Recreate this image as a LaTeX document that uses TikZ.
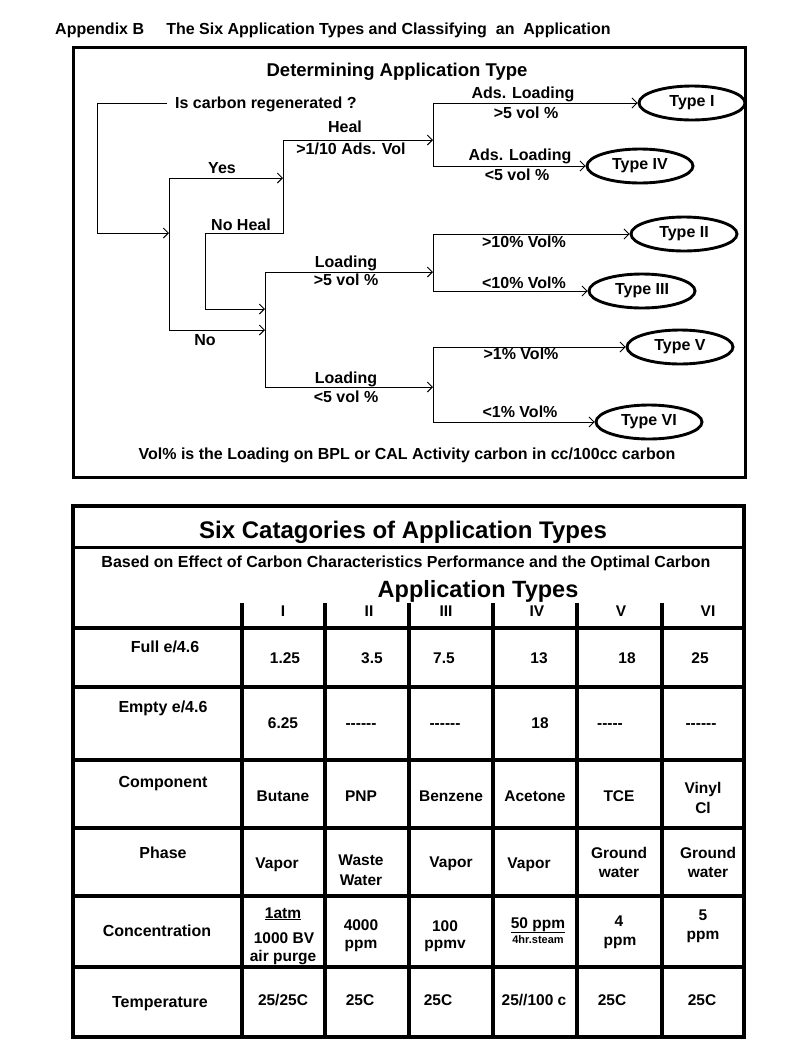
\documentclass[tikz,border=0pt]{standalone}
\usepackage{fontspec}
\setmainfont{Liberation Sans}
\usetikzlibrary{arrows.meta,shapes.geometric}
\newcommand{\fsz}[1]{\fontsize{#1}{#1}\selectfont\bfseries}
\begin{document}
\begin{tikzpicture}[x=1pt,y=-1pt,
  lbl/.style={anchor=base,inner sep=0pt,font=\fsz{16}},
  cell/.style={anchor=base,inner sep=0pt,font=\fsz{15.5}},
  rowlbl/.style={anchor=base,inner sep=0pt,font=\fsz{16}},
  line1/.style={line width=1pt},
  arr/.style={line width=1pt,-{Straight Barb[length=5pt,width=10pt,line width=0.9pt]}},
  typ/.style={ellipse,draw,line width=2.9pt,minimum width=106pt,minimum height=34pt,inner sep=0pt,font=\fsz{16}},
  boxframe/.style={line width=3pt},
  tablegrid/.style={line width=3.8pt}]
\useasboundingbox (0,0) rectangle (805,1042);
\fill[white] (0,0) rectangle (805,1042);

% ---------- page title ----------
\node[anchor=base west,inner sep=0pt,font=\fsz{16}] (ttl) at (55,34)
  {Appendix B\ \ \ \ \ The Six Application Types and Classifying\ \ an\ \ Application};

% ---------- top box ----------
\draw[boxframe] (73,47) rectangle (745,477);
\node[lbl,font=\fsz{18.5}] (hdr) at (397,76) {Determining Application Type};

\node[lbl,anchor=base west] (Q) at (175,108) {Is carbon regenerated ?};
\coordinate (Qa) at (167,103);
\coordinate (A) at (97,103);
\coordinate (B) at (97,233);
\coordinate (J1) at (169,233);
\coordinate (V1t) at (169,178);
\coordinate (V1b) at (169,330);
\coordinate (V2t) at (283,140);
\coordinate (V2m) at (283,178);
\coordinate (V2b) at (283,233);
\coordinate (NH1) at (205,233);
\coordinate (NH2) at (205,309);
\coordinate (V3t) at (265,272);
\coordinate (V3m) at (265,309);
\coordinate (V3n) at (265,330);
\coordinate (V3b) at (265,387);
\coordinate (R1t) at (433,103);
\coordinate (R1m) at (433,140);
\coordinate (R1b) at (433,166);
\coordinate (R2t) at (433,234);
\coordinate (R2m) at (433,272);
\coordinate (R2b) at (433,291);
\coordinate (R3t) at (433,347);
\coordinate (R3m) at (433,387);
\coordinate (R3b) at (433,422);

\node[typ] (T1) at (692,103) {Type I};
\node[typ] (T4) at (640,166) {Type IV};
\node[typ] (T2) at (684,234) {Type II};
\node[typ] (T3) at (642,291) {Type III};
\node[typ] (T5) at (680,347) {Type V};
\node[typ] (T6) at (649,422) {Type VI};

\draw[line1] (Qa) -- (A) -- (B);
\draw[arr] (B) -- (J1);
\draw[line1] (V1t) -- (V1b);
\draw[arr] (V1t) -- (V2m);
\draw[line1] (V2t) -- (V2b) -- (NH1) -- (NH2);
\draw[arr] (NH2) -- (V3m);
\draw[arr] (V1b) -- (V3n);
\draw[arr] (V2t) -- (R1m);
\draw[line1] (V3t) -- (V3b);
\draw[arr] (V3t) -- (R2m);
\draw[arr] (V3b) -- (R3m);
\draw[line1] (R1t) -- (R1b);
\draw[line1] (R2t) -- (R2b);
\draw[line1] (R3t) -- (R3b);
\draw[arr] (R1t) -- (R1t -| T1.west);
\draw[arr] (R1b) -- (R1b -| T4.west);
\draw[arr] (R2t) -- (R2t -| T2.west);
\draw[arr] (R2b) -- (R2b -| T3.west);
\draw[arr] (R3t) -- (R3t -| T5.west);
\draw[arr] (R3b) -- (R3b -| T6.west);

\node[lbl] (yes) at (222,173) {Yes};
\node[lbl] (heal) at (345,132) {Heal};
\node[lbl] (healv) at (351,154) {>1/10 Ads. Vol};
\node[lbl] (noheal) at (241,230) {No Heal};
\node[lbl] (no) at (205,345) {No};
\node[lbl] (ld1) at (346,267) {Loading};
\node[lbl] (ld1v) at (346,285) {>5 vol \%};
\node[lbl] (ld2) at (346,383) {Loading};
\node[lbl] (ld2v) at (346,402) {<5 vol \%};
\node[lbl] (al1) at (523,98) {Ads. Loading};
\node[lbl] (al1v) at (526,118) {>5 vol \%};
\node[lbl] (al2) at (520,160) {Ads. Loading};
\node[lbl] (al2v) at (517,180) {<5 vol \%};
\node[lbl] (p10a) at (524,247) {>10\% Vol\%};
\node[lbl] (p10b) at (524,288) {<10\% Vol\%};
\node[lbl] (p1a) at (521,359) {>1\% Vol\%};
\node[lbl] (p1b) at (520,417) {<1\% Vol\%};
\node[lbl] (note) at (407,459) {Vol\% is the Loading on BPL or CAL Activity carbon in cc/100cc carbon};

% ---------- table ----------
\draw[tablegrid] (73,506) rectangle (744,1037);
\draw[line width=3pt] (73,547) -- (744,547);
\foreach \yy in {628,687,760,828,896,967} \draw[tablegrid] (73,\yy) -- (744,\yy);
\foreach \xx in {242,325,409,493,577,662} \draw[tablegrid] (\xx,603) -- (\xx,1037);

\node[lbl,font=\fsz{24}] (tt) at (403,538) {Six Catagories of Application Types};
\node[lbl,font=\fsz{16}] (tb) at (406,567) {Based on Effect of Carbon Characteristics Performance and the Optimal Carbon};
\node[lbl,font=\fsz{23.5}] (ta) at (478,597) {Application Types};

\node[cell] (h1) at (283,616) {I};
\node[cell] (h2) at (369,616) {II};
\node[cell] (h3) at (446,616) {III};
\node[cell] (h4) at (537,616) {IV};
\node[cell] (h5) at (621,616) {V};
\node[cell] (h6) at (708,616) {VI};

\node[rowlbl] (r1) at (165,652) {Full e/4.6};
\node[rowlbl] (r2) at (163,712) {Empty e/4.6};
\node[rowlbl] (r3) at (163,787) {Component};
\node[rowlbl] (r4) at (163,858) {Phase};
\node[rowlbl] (r5) at (157,936) {Concentration};
\node[rowlbl] (r6) at (160,1007) {Temperature};

% Full
\node[cell] (a1) at (285,663) {1.25};
\node[cell] (a2) at (372,663) {3.5};
\node[cell] (a3) at (444,663) {7.5};
\node[cell] (a4) at (539,663) {13};
\node[cell] (a5) at (627,663) {18};
\node[cell] (a6) at (700,663) {25};
% Empty
\node[cell] (b1) at (283,728) {6.25};
\node[cell] (b2) at (361,728) {-{}-{}-{}-{}-{}-};
\node[cell] (b3) at (445,728) {-{}-{}-{}-{}-{}-};
\node[cell] (b4) at (540,728) {18};
\node[cell] (b5) at (610,728) {-{}-{}-{}-{}-};
\node[cell] (b6) at (701,728) {-{}-{}-{}-{}-{}-};
% Component
\node[cell] (c1) at (283,801) {Butane};
\node[cell] (c2) at (361,801) {PNP};
\node[cell] (c3) at (451,801) {Benzene};
\node[cell] (c4) at (535,801) {Acetone};
\node[cell] (c5) at (619,801) {TCE};
\node[cell] (c6a) at (703,793) {Vinyl};
\node[cell] (c6b) at (703,813) {Cl};
% Phase
\node[cell] (d1) at (277,868) {Vapor};
\node[cell] (d2a) at (361,865) {Waste};
\node[cell] (d2b) at (361,885) {Water};
\node[cell] (d3) at (451,867) {Vapor};
\node[cell] (d4) at (529,868) {Vapor};
\node[cell] (d5a) at (619,858) {Ground};
\node[cell] (d5b) at (619,877) {water};
\node[cell] (d6a) at (708,858) {Ground};
\node[cell] (d6b) at (708,877) {water};
% Concentration
\node[cell] (e1a) at (283,918) {\underline{1atm}};
\node[cell] (e1b) at (284,943) {1000 BV};
\node[cell] (e1c) at (283,961) {air purge};
\node[cell] (e2a) at (361,930) {4000};
\node[cell] (e2b) at (361,948) {ppm};
\node[cell] (e3a) at (445,931) {100};
\node[cell] (e3b) at (445,948) {ppmv};
\node[cell] (e4a) at (538,928) {\underline{50 ppm}};
\node[cell,font=\fsz{11}] (e4b) at (538,943) {4hr.steam};
\node[cell] (e5a) at (619,926) {4};
\node[cell] (e5b) at (620,945) {ppm};
\node[cell] (e6a) at (703,920) {5};
\node[cell] (e6b) at (703,939) {ppm};
% Temperature
\node[cell] (g1) at (283,1005) {25/25C};
\node[cell] (g2) at (360,1005) {25C};
\node[cell] (g3) at (438,1005) {25C};
\node[cell] (g4) at (534,1005) {25//100 c};
\node[cell] (g5) at (612,1005) {25C};
\node[cell] (g6) at (702,1005) {25C};
\end{tikzpicture}
\end{document}
